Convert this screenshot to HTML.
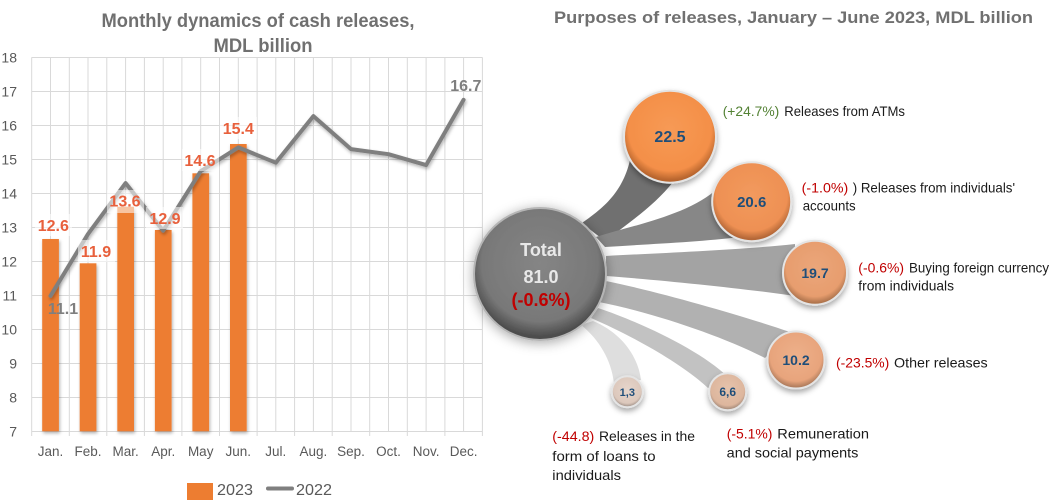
<!DOCTYPE html>
<html><head><meta charset="utf-8"><style>
html,body{margin:0;padding:0;background:#fff;}
svg{display:block;font-family:"Liberation Sans",sans-serif;}
</style></head><body>
<svg width="1055" height="500" viewBox="0 0 1055 500" xmlns="http://www.w3.org/2000/svg">
<defs>
 <filter id="sh" x="-40%" y="-40%" width="180%" height="180%"><feDropShadow dx="0" dy="3" stdDeviation="3" flood-color="#000" flood-opacity="0.35"/></filter>
 <filter id="sh2" x="-40%" y="-40%" width="180%" height="180%"><feDropShadow dx="0" dy="2" stdDeviation="6" flood-color="#000" flood-opacity="0.35"/></filter>
 <filter id="lsh" x="-10%" y="-10%" width="120%" height="130%"><feDropShadow dx="1" dy="2" stdDeviation="1.5" flood-color="#000" flood-opacity="0.3"/></filter>
 <radialGradient id="gT" cx="50%" cy="42%" r="55%">
  <stop offset="0" stop-color="#858585"/><stop offset="0.8" stop-color="#787878"/><stop offset="1" stop-color="#4e4e4e"/>
 </radialGradient>
 <radialGradient id="g1" cx="50%" cy="42%" r="55%">
  <stop offset="0" stop-color="#F79A55"/><stop offset="0.82" stop-color="#F48F48"/><stop offset="1" stop-color="#B8652E"/>
 </radialGradient>
 <radialGradient id="g2" cx="50%" cy="42%" r="55%">
  <stop offset="0" stop-color="#F29A5E"/><stop offset="0.82" stop-color="#EE9053"/><stop offset="1" stop-color="#B56838"/>
 </radialGradient>
 <radialGradient id="g3" cx="50%" cy="42%" r="55%">
  <stop offset="0" stop-color="#EBA67A"/><stop offset="0.82" stop-color="#E79D6E"/><stop offset="1" stop-color="#B0754E"/>
 </radialGradient>
 <radialGradient id="g4" cx="50%" cy="42%" r="55%">
  <stop offset="0" stop-color="#EDB08A"/><stop offset="0.82" stop-color="#E8A47C"/><stop offset="1" stop-color="#B27E5E"/>
 </radialGradient>
 <radialGradient id="g5" cx="50%" cy="42%" r="55%">
  <stop offset="0" stop-color="#E5C3AC"/><stop offset="0.82" stop-color="#DDB69D"/><stop offset="1" stop-color="#A88D7C"/>
 </radialGradient>
 <radialGradient id="g6" cx="50%" cy="42%" r="55%">
  <stop offset="0" stop-color="#E6D5CB"/><stop offset="0.82" stop-color="#DCC8BC"/><stop offset="1" stop-color="#A8988F"/>
 </radialGradient>
</defs>

<!-- LEFT CHART -->
<text x="258" y="27" text-anchor="middle" font-size="19" font-weight="bold" fill="#707070" textLength="313" lengthAdjust="spacingAndGlyphs">Monthly dynamics of cash releases,</text>
<text x="263" y="52" text-anchor="middle" font-size="19" font-weight="bold" fill="#707070" textLength="99" lengthAdjust="spacingAndGlyphs">MDL billion</text>

<g stroke="#d9d9d9" stroke-width="1" fill="none">
 <path d="M31.5 57.5H482.5M31.5 91.5H482.5M31.5 125.5H482.5M31.5 159.5H482.5M31.5 193.5H482.5M31.5 227.5H482.5M31.5 261.5H482.5M31.5 295.5H482.5M31.5 329.5H482.5M31.5 363.5H482.5M31.5 397.5H482.5M31.5 431.5H482.5"/>
 <path d="M31.7 57.5V436M50.5 57.5V431.5M69.3 57.5V436M88 57.5V431.5M106.8 57.5V436M125.6 57.5V431.5M144.4 57.5V436M163.2 57.5V431.5M181.9 57.5V436M200.7 57.5V431.5M219.5 57.5V436M238.3 57.5V431.5M257.1 57.5V436M275.8 57.5V431.5M294.6 57.5V436M313.4 57.5V431.5M332.2 57.5V436M351 57.5V431.5M369.7 57.5V436M388.5 57.5V431.5M407.3 57.5V436M426.1 57.5V431.5M444.9 57.5V436M463.6 57.5V431.5M482.4 57.5V436"/>
</g>

<g font-size="14" fill="#595959" text-anchor="end">
 <text x="17" y="62.5">18</text><text x="17" y="96.5">17</text><text x="17" y="130.5">16</text><text x="17" y="164.5">15</text>
 <text x="17" y="198.5">14</text><text x="17" y="232.5">13</text><text x="17" y="266.5">12</text><text x="17" y="300.5">11</text>
 <text x="17" y="334.5">10</text><text x="17" y="368.5">9</text><text x="17" y="402.5">8</text><text x="17" y="436.5">7</text>
</g>
<g font-size="13.5" fill="#595959" text-anchor="middle">
 <text x="50.5" y="456">Jan.</text><text x="88" y="456">Feb.</text><text x="125.6" y="456">Mar.</text><text x="163.2" y="456">Apr.</text>
 <text x="200.7" y="456">May</text><text x="238.3" y="456">Jun.</text><text x="275.8" y="456">Jul.</text><text x="313.4" y="456">Aug.</text>
 <text x="351" y="456">Sep.</text><text x="388.5" y="456">Oct.</text><text x="426.1" y="456">Nov.</text><text x="463.6" y="456">Dec.</text>
</g>

<g fill="#ED7D31" filter="url(#lsh)">
 <rect x="42.2" y="239" width="16.7" height="192.3"/>
 <rect x="79.7" y="263.3" width="16.7" height="168"/>
 <rect x="117.3" y="206.7" width="16.7" height="224.6"/>
 <rect x="154.9" y="230" width="16.7" height="201.3"/>
 <rect x="192.4" y="173.3" width="16.7" height="258"/>
 <rect x="230" y="144" width="16.7" height="287.3"/>
</g>

<polyline points="50.5,295.9 88,234.1 125.6,183.1 163.2,230.7 200.7,171.2 238.3,147.4 275.8,162.7 313.4,116.1 351,149.1 388.5,154.2 426.1,165.1 463.6,99.8" fill="none" stroke="#7f7f7f" stroke-width="4" stroke-linejoin="round" stroke-linecap="round" filter="url(#lsh)"/>

<g fill="#fff" fill-opacity="0.55">
 <rect x="35" y="214" width="37" height="22"/>
 <rect x="78" y="240" width="37" height="22"/>
 <rect x="107" y="190" width="37" height="23"/>
 <rect x="146" y="207" width="37" height="22"/>
 <rect x="182" y="149" width="37" height="22"/>
 <rect x="220" y="117" width="37" height="22"/>
</g>
<g font-size="16" font-weight="bold" fill="#E8603C" text-anchor="middle">
 <text x="53.3" y="231">12.6</text>
 <text x="96" y="257">11.9</text>
 <text x="125" y="206.5">13.6</text>
 <text x="165" y="224">12.9</text>
 <text x="200" y="166">14.6</text>
 <text x="238.3" y="134">15.4</text>
</g>
<g font-size="16" font-weight="bold" fill="#7f7f7f" text-anchor="middle">
 <text x="63" y="314">11.1</text>
 <text x="465.8" y="91">16.7</text>
</g>

<rect x="187" y="483" width="26" height="17" fill="#ED7D31"/>
<text x="217" y="495" font-size="16" fill="#595959" textLength="36" lengthAdjust="spacingAndGlyphs">2023</text>
<line x1="268" y1="488.5" x2="292" y2="488.5" stroke="#7f7f7f" stroke-width="4" stroke-linecap="round"/>
<text x="296" y="495" font-size="16" fill="#595959" textLength="36" lengthAdjust="spacingAndGlyphs">2022</text>

<!-- RIGHT CHART -->
<text x="554" y="23" font-size="17" font-weight="bold" fill="#707070" textLength="479" lengthAdjust="spacingAndGlyphs">Purposes of releases, January – June 2023, MDL billion</text>

<!-- connectors -->
<path d="M581.7,223.3 C600,210 622,195 630,160 L673,182 C655,205 630,222 605,241 Z" fill="#707070"/>
<path d="M596,237 C630,226 690,215 718,188 L740,237 C700,242 650,244 605,247 Z" fill="#878787"/>
<path d="M606,256 C660,253 740,250 795,244 L795,296 C740,288 660,280 606,276 Z" fill="#a3a3a3"/>
<path d="M606,281 C660,292 740,315 790,332 L765,358 C720,335 650,312 599,302 Z" fill="#b1b1b1"/>
<path d="M598,308 C640,322 700,350 728,377 L708,388 C680,362 630,335 591,318 Z" fill="#c2c2c2"/>
<path d="M593,321 C620,332 638,355 641,380 L614,384 C612,362 600,340 581,325 Z" fill="#dedede"/>

<!-- total -->
<circle cx="540" cy="274" r="66" fill="url(#gT)" stroke="#b5b5b5" stroke-width="2" filter="url(#sh2)"/>
<g font-size="18" font-weight="bold" text-anchor="middle">
 <text x="541" y="256" fill="#e8e8e8">Total</text>
 <text x="541" y="283" fill="#e8e8e8">81.0</text>
 <text x="541" y="306" fill="#C00000">(-0.6%)</text>
</g>

<!-- bubbles -->
<circle cx="670" cy="136.7" r="46" fill="url(#g1)" stroke="#e4e4e4" stroke-width="2" filter="url(#sh)"/>
<circle cx="751.7" cy="201.7" r="39.5" fill="url(#g2)" stroke="#e4e4e4" stroke-width="2" filter="url(#sh)"/>
<circle cx="815" cy="272.7" r="32" fill="url(#g3)" stroke="#e4e4e4" stroke-width="2" filter="url(#sh)"/>
<circle cx="796" cy="360" r="28.5" fill="url(#g4)" stroke="#e4e4e4" stroke-width="2" filter="url(#sh)"/>
<circle cx="727.7" cy="391.7" r="18.5" fill="url(#g5)" stroke="#e4e4e4" stroke-width="2" filter="url(#sh)"/>
<circle cx="627.3" cy="391.7" r="15.5" fill="url(#g6)" stroke="#e4e4e4" stroke-width="2" filter="url(#sh)"/>
<g font-weight="bold" fill="#1F4E79" text-anchor="middle">
 <text x="670" y="142" font-size="16">22.5</text>
 <text x="751.7" y="207" font-size="15">20.6</text>
 <text x="815" y="278" font-size="14">19.7</text>
 <text x="796" y="365" font-size="14">10.2</text>
 <text x="727.7" y="396" font-size="12">6,6</text>
 <text x="627.3" y="396" font-size="11">1,3</text>
</g>

<!-- descriptions -->
<g font-size="14">
 <text x="722.7" y="116" fill="#548235" textLength="56.6" lengthAdjust="spacingAndGlyphs">(+24.7%)</text>
 <text x="784.3" y="116" fill="#1a1a1a" textLength="120.7" lengthAdjust="spacingAndGlyphs">Releases from ATMs</text>

 <text x="801.7" y="192.7" fill="#C00000" textLength="46.6" lengthAdjust="spacingAndGlyphs">(-1.0%)</text>
 <text x="852.7" y="192.7" fill="#1a1a1a" textLength="162.3" lengthAdjust="spacingAndGlyphs">) Releases from individuals'</text>
 <text x="802.7" y="210.7" fill="#1a1a1a" textLength="53" lengthAdjust="spacingAndGlyphs">accounts</text>

 <text x="858.3" y="272.7" fill="#C00000" textLength="45.7" lengthAdjust="spacingAndGlyphs">(-0.6%)</text>
 <text x="909" y="272.7" fill="#1a1a1a" textLength="140" lengthAdjust="spacingAndGlyphs">Buying foreign currency</text>
 <text x="858.3" y="290.7" fill="#1a1a1a" textLength="95.7" lengthAdjust="spacingAndGlyphs">from individuals</text>

 <text x="836" y="367.3" fill="#C00000" textLength="53.3" lengthAdjust="spacingAndGlyphs">(-23.5%)</text>
 <text x="894" y="367.3" fill="#1a1a1a" textLength="93.7" lengthAdjust="spacingAndGlyphs">Other releases</text>

 <text x="726.7" y="438.3" fill="#C00000" textLength="45.7" lengthAdjust="spacingAndGlyphs">(-5.1%)</text>
 <text x="777.3" y="438.3" fill="#1a1a1a" textLength="91.7" lengthAdjust="spacingAndGlyphs">Remuneration</text>
 <text x="726.7" y="457.3" fill="#1a1a1a" textLength="131.7" lengthAdjust="spacingAndGlyphs">and social payments</text>

 <text x="552.3" y="441" fill="#C00000" textLength="42" lengthAdjust="spacingAndGlyphs">(-44.8)</text>
 <text x="599" y="441" fill="#1a1a1a" textLength="96" lengthAdjust="spacingAndGlyphs">Releases in the</text>
 <text x="552.3" y="461" fill="#1a1a1a" textLength="103.3" lengthAdjust="spacingAndGlyphs">form of loans to</text>
 <text x="552.3" y="480" fill="#1a1a1a" textLength="68.7" lengthAdjust="spacingAndGlyphs">individuals</text>
</g>
</svg>
</body></html>
